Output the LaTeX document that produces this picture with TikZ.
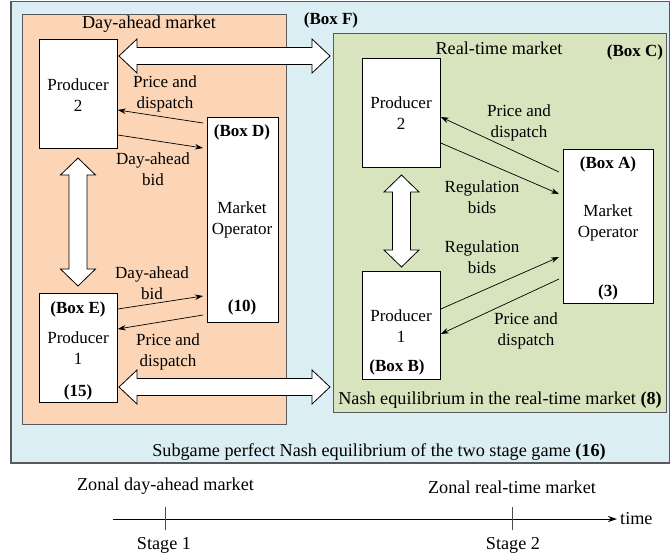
\documentclass[tikz,border=0pt]{standalone}
\usepackage{fontspec}
\setmainfont{Liberation Serif}
\usetikzlibrary{arrows.meta,calc}
\definecolor{outerblue}{RGB}{219,238,244}
\definecolor{dayorange}{RGB}{251,213,181}
\definecolor{rtgreen}{RGB}{215,228,189}
\definecolor{framegray}{RGB}{89,89,89}
\newcommand{\blockH}[3]{%
  \draw[blk] (#1,#3) -- (#1+18,#3-17) -- (#1+18,#3-8.5) -- (#2-18,#3-8.5) -- (#2-18,#3-17) -- (#2,#3)
    -- (#2-18,#3+17) -- (#2-18,#3+8.5) -- (#1+18,#3+8.5) -- (#1+18,#3+17) -- cycle;}
\newcommand{\blockV}[3]{%
  \draw[blk] (#1,#2) -- (#1-17.5,#2+17) -- (#1-9,#2+17) -- (#1-9,#3-17) -- (#1-17.5,#3-17) -- (#1,#3)
    -- (#1+17.5,#3-17) -- (#1+9,#3-17) -- (#1+9,#2+17) -- (#1+17.5,#2+17) -- cycle;}
\begin{document}
\begin{tikzpicture}[x=1pt,y=-1pt,font=\fontsize{17}{21.5}\selectfont,
  wbox/.style={draw=black,fill=white,line width=0.8pt,anchor=north west,inner sep=0pt},
  lbl/.style={align=center,inner sep=0pt},
  big/.style={font=\fontsize{18.2}{22}\selectfont},
  flow/.style={-{Stealth[length=8pt,width=5.5pt]},line width=0.7pt},
  blk/.style={draw=black,fill=white,line width=0.8pt},
  tick/.style={draw=black!70,line width=0.8pt}]
\useasboundingbox (0,0) rectangle (671,558);
% outer and market boxes
\draw[fill=outerblue,draw=framegray,line width=1.6pt] (11,1.5) rectangle (669.5,463);
\draw[fill=dayorange,draw=framegray,line width=0.8pt] (22,14) rectangle (286,424);
\draw[fill=rtgreen,draw=framegray,line width=0.8pt] (333,33) rectangle (666,412);
% block arrows
\blockH{119}{330}{56}
\blockH{119}{330}{387}
\blockV{78}{158}{286}
\blockV{401.5}{175}{267}
% boxes
\node[wbox,minimum width=78pt,minimum height=109pt] (P2L) at (39,39) {};
\node[wbox,minimum width=71pt,minimum height=205pt] (D) at (207,117) {};
\node[wbox,minimum width=78pt,minimum height=109pt] (P1L) at (39,293) {};
\node[wbox,minimum width=78pt,minimum height=109pt] (P2R) at (362,58) {};
\node[wbox,minimum width=90pt,minimum height=154pt] (A) at (563,149) {};
\node[wbox,minimum width=78pt,minimum height=108pt] (P1R) at (362,271) {};
% thin arrows, left
\draw[flow] ($(D.north west)+(-4,6)$) -- ($(P2L.north east)+(0,71)$);
\draw[flow] ($(P2L.north east)+(0,96)$) -- ($(D.north west)+(-4,31)$);
\draw[flow] ($(P1L.north east)+(0,16)$) -- ($(D.north west)+(-4,179)$);
\draw[flow] ($(D.north west)+(-4,198)$) -- ($(P1L.north east)+(0,36)$);
% thin arrows, right
\draw[flow] ($(A.north west)+(-4,23)$) -- ($(P2R.north east)+(0,59)$);
\draw[flow] ($(P2R.north east)+(0,85)$) -- ($(A.north west)+(-4,45)$);
\draw[flow] ($(P1R.north east)+(0,38)$) -- ($(A.north west)+(-4,108)$);
\draw[flow] ($(A.north west)+(-4,130)$) -- ($(P1R.north east)+(0,63)$);
% labels
\node[lbl,big] (tDA) at (149,24) {Day-ahead market};
\node[lbl] (tF) at (331,20) {\textbf{(Box F)}};
\node[lbl,big] (tRT) at (499,48) {Real-time market};
\node[lbl] (tC) at (635,52) {\textbf{(Box C)}};
\node[lbl] (tP2L) at (78,95) {Producer\\2};
\node[lbl] (tPD1) at (165,94) {Price and\\dispatch};
\node[lbl] (tDB1) at (153,169) {Day-ahead\\bid};
\node[lbl] (tD) at (242,132) {\textbf{(Box D)}};
\node[lbl] (tMOD) at (242,220) {Market\\Operator};
\node[lbl] (t10) at (242,307) {\textbf{(10)}};
\node[lbl] (tDB2) at (152,283) {Day-ahead\\bid};
\node[lbl] (tPD2) at (168,352) {Price and\\dispatch};
\node[lbl] (tE) at (78,309) {\textbf{(Box E)}};
\node[lbl] (tP1L) at (78,348) {Producer\\1};
\node[lbl] (t15) at (78,392) {\textbf{(15)}};
\node[lbl] (tPD3) at (519,123) {Price and\\dispatch};
\node[lbl] (tRB1) at (482,197) {Regulation\\bids};
\node[lbl] (tA) at (608,164) {\textbf{(Box A)}};
\node[lbl] (tMOA) at (608,223) {Market\\Operator};
\node[lbl] (t3) at (608,292) {\textbf{(3)}};
\node[lbl] (tP2R) at (401,113) {Producer\\2};
\node[lbl] (tRB2) at (482,257) {Regulation\\bids};
\node[lbl] (tPD4) at (526,331) {Price and\\dispatch};
\node[lbl] (tP1R) at (401,326) {Producer\\1};
\node[lbl] (tB) at (397,367) {\textbf{(Box B)}};
\node[lbl,big] (tNash) at (500,400) {Nash equilibrium in the real-time market \textbf{(8)}};
\node[lbl,big] (tSub) at (379,452) {Subgame perfect Nash equilibrium of the two stage game \textbf{(16)}};
% timeline
\node[lbl,big] (tZD) at (165.5,486) {Zonal day-ahead market};
\node[lbl,big] (tZR) at (512,487) {Zonal real-time market};
\coordinate (tl0) at (113,519);
\node[lbl,big,anchor=west] (ttime) at (620,519) {time};
\draw[line width=0.8pt,-{Stealth[length=9pt,width=6pt]}] (tl0) -- ($(ttime.west)+(-3,0)$);
\coordinate (s1a) at (165,507); \coordinate (s1b) at (165,530);
\coordinate (s2a) at (512,507); \coordinate (s2b) at (512,530);
\draw[tick] (s1a) -- (s1b);
\draw[tick] (s2a) -- (s2b);
\node[lbl,big] (tS1) at (164,545) {Stage 1};
\node[lbl,big] (tS2) at (513,545) {Stage 2};
\end{tikzpicture}
\end{document}
